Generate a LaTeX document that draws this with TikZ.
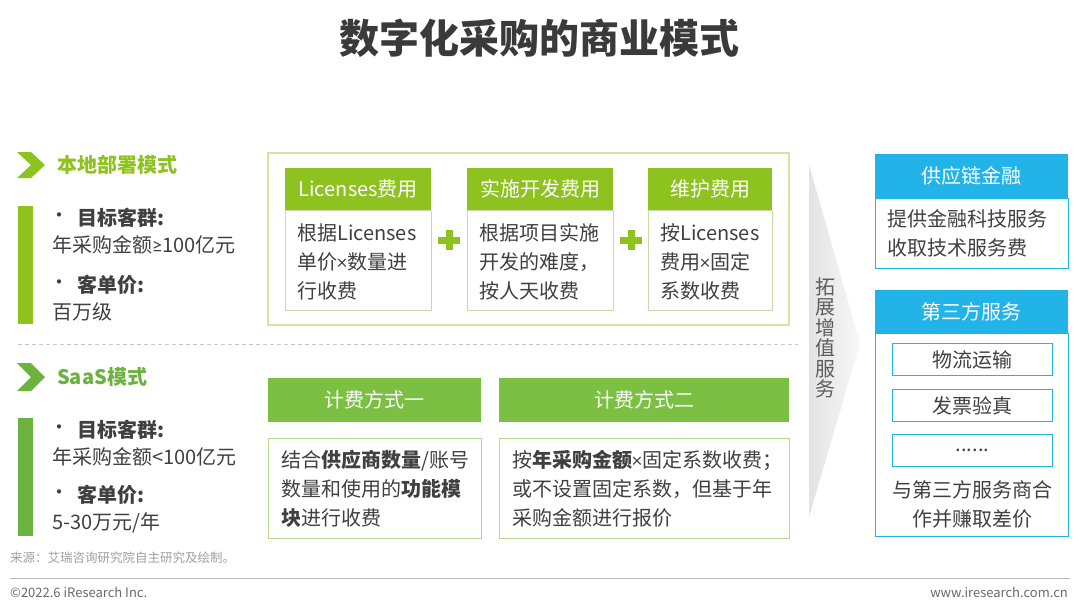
\documentclass[tikz,border=0pt]{standalone}
\usepackage{fontspec}
\setmainfont{Noto Sans CJK SC}
\newfontfamily\latf{Carlito}
\newcommand{\mygeq}{{\latf ≥}}
\newcommand{\mytimes}{{\latf ×}}
\definecolor{lime}{HTML}{8DC21F}
\definecolor{green2}{HTML}{7BC043}
\definecolor{green3}{HTML}{6BB33E}
\definecolor{framelime}{HTML}{D3E5A0}
\definecolor{bodyline}{HTML}{C9DBA8}
\definecolor{bodyline2}{HTML}{B5D88E}
\definecolor{cyanh}{HTML}{22B3E8}
\definecolor{tgray}{HTML}{404040}
\definecolor{titlegray}{HTML}{3A3A3A}
\definecolor{footgray}{HTML}{6A6A6A}
\begin{document}
\begin{tikzpicture}[x=1pt,y=-1pt,
  txt/.style={font=\fontsize{20}{29}\selectfont, text=tgray, inner sep=0pt},
  hdr/.style={fill=#1, draw=none, text=white, font=\fontsize{20}{24}\selectfont, inner sep=0pt, anchor=north west},
  bodybox/.style={draw=#1, line width=1.2pt, fill=white, inner sep=0pt, anchor=north west},
  subbox/.style={draw=cyanh, line width=1pt, fill=white, inner sep=0pt, anchor=north west, minimum width=160pt, minimum height=32pt, text=tgray, font=\fontsize{20}{24}\selectfont},
  chev/.style={fill=#1, draw=none},
  bul/.style={font=\fontsize{20}{24}\selectfont, text=tgray, inner sep=0pt},
  bhead/.style={font=\bfseries\fontsize{20}{24}\selectfont, text=tgray, inner sep=0pt, anchor=west}
]
\useasboundingbox (0,0) rectangle (1080,608);
\fill[white] (0,0) rectangle (1080,608);

% title
\node[font=\bfseries\fontsize{40}{44}\selectfont, text=titlegray] (title) at (539,38) {数字化采购的商业模式};

% ---------- section 1 ----------
\fill[chev=lime] (17,152) -- (31,152) -- (45,165) -- (31,178) -- (17,178) -- (31,165) -- cycle;
\node[anchor=west, text=lime, font=\bfseries\fontsize{20}{24}\selectfont, inner sep=0pt] (m1) at (57,165) {本地部署模式};
\fill[lime] (18,206) rectangle (33,324);
\node[bul] (b1a) at (59,218) {•};
\node[bhead] (h1a) at (77,218) {目标客群:};
\node[txt, anchor=west] (v1a) at (52,245) {年采购金额\mygeq100亿元};
\node[bul] (b1b) at (59,285) {•};
\node[bhead] (h1b) at (77,285) {客单价:};
\node[txt, anchor=west] (v1b) at (52,312) {百万级};

\draw[framelime, line width=1.5pt] (268,153) rectangle (789,325);

\node[hdr=lime, minimum width=146pt, minimum height=42pt] (L1) at (285,168) {Licenses费用};
\node[bodybox=bodyline, minimum width=146pt, minimum height=100pt] (B1) at (285,210) {};
\node[txt, anchor=west, align=left] (T1) at (297,262) {根据Licenses\\单价\mytimes 数量进\\行收费};

\node[hdr=lime, minimum width=146pt, minimum height=42pt] (L2) at (467,168) {实施开发费用};
\node[bodybox=bodyline, minimum width=146pt, minimum height=100pt] (B2) at (467,210) {};
\node[txt, anchor=west, align=left] (T2) at (479,262) {根据项目实施\\开发的难度，\\按人天收费};

\node[hdr=lime, minimum width=124pt, minimum height=42pt] (L3) at (648,168) {维护费用};
\node[bodybox=bodyline, minimum width=124pt, minimum height=100pt] (B3) at (648,210) {};
\node[txt, anchor=west, align=left] (T3) at (660,262) {按Licenses\\费用\mytimes 固定\\系数收费};

\coordinate (p1) at (449,240);
\coordinate (p2) at (631,240);
\foreach \p in {p1,p2}{
  \fill[lime] ([xshift=-11pt,yshift=-3.5pt]\p) rectangle ([xshift=11pt,yshift=3.5pt]\p);
  \fill[lime] ([xshift=-3.5pt,yshift=-10pt]\p) rectangle ([xshift=3.5pt,yshift=10pt]\p);
}

% dashed separator
\draw[gray!45, line width=0.8pt, dash pattern=on 4pt off 3pt] (18,344) -- (798,344);

% ---------- section 2 ----------
\fill[chev=green3] (17,363) -- (31,363) -- (45,377) -- (31,391) -- (17,391) -- (31,377) -- cycle;
\node[anchor=west, text=green3, font=\bfseries\fontsize{20}{24}\selectfont, inner sep=0pt] (m2) at (57,377) {SaaS模式};
\fill[green3] (18,418) rectangle (33,536);
\node[bul] (b2a) at (59,430) {•};
\node[bhead] (h2a) at (77,430) {目标客群:};
\node[txt, anchor=west] (v2a) at (52,457) {年采购金额<100亿元};
\node[bul] (b2b) at (59,495) {•};
\node[bhead] (h2b) at (77,495) {客单价:};
\node[txt, anchor=west] (v2b) at (52,523) {5-30万元/年};

\node[hdr=green2, minimum width=213pt, minimum height=44pt] (F1) at (268,378) {计费方式一};
\node[bodybox=bodyline2, minimum width=213pt, minimum height=100pt] (C1) at (268,438) {};
\node[txt, anchor=west, align=left] (U1) at (281,489) {结合\textbf{供应商数量}/账号\\数量和使用的\textbf{功能模}\\\textbf{块}进行收费};

\node[hdr=green2, minimum width=290pt, minimum height=44pt] (F2) at (499,378) {计费方式二};
\node[bodybox=bodyline2, minimum width=290pt, minimum height=100pt] (C2) at (499,438) {};
\node[txt, anchor=west, align=left] (U2) at (512,489) {按\textbf{年采购金额}\mytimes 固定系数收费；\\或不设置固定系数，但基于年\\采购金额进行报价};

% ---------- right column ----------
\shade[left color=gray!22, right color=gray!6] (809,165) -- (860,343) -- (809,517) -- cycle;
\node[align=center, font=\fontsize{20}{20.5}\selectfont, text=tgray!85, inner sep=0pt] (vt) at (825,338) {拓\\展\\增\\值\\服\\务};

\node[hdr=cyanh, minimum width=193pt, minimum height=44pt] (R1) at (875,154) {供应链金融};
\node[bodybox=cyanh, minimum width=193pt, minimum height=70pt] (S1) at (875,198) {};
\node[txt, anchor=west, align=left] (W1) at (887,233) {提供金融科技服务\\收取技术服务费};

\node[hdr=cyanh, minimum width=193pt, minimum height=43pt] (R2) at (875,290) {第三方服务};
\node[bodybox=cyanh, minimum width=193pt, minimum height=203pt] (S2) at (875,333) {};
\node[subbox] (Q1) at (892,343) {物流运输};
\node[subbox] (Q2) at (892,389) {发票验真};
\node[subbox] (Q3) at (892,434) {......};
\node[txt, align=center] (W2) at (972,504) {与第三方服务商合\\作并赚取差价};

% ---------- footer ----------
\node[anchor=west, font=\fontsize{12.5}{14}\selectfont, text=gray!75, inner sep=0pt] (src) at (10,558) {来源：艾瑞咨询研究院自主研究及绘制。};
\draw[gray!55, line width=1pt] (10,578) -- (1070,578);
\node[anchor=west, font=\fontsize{13}{15}\selectfont, text=footgray, inner sep=0pt] (copy) at (10,592) {©2022.6 iResearch Inc.};
\node[anchor=east, font=\fontsize{13}{15}\selectfont, text=footgray, inner sep=0pt] (www) at (1068,592) {www.iresearch.com.cn};
\end{tikzpicture}
\end{document}
